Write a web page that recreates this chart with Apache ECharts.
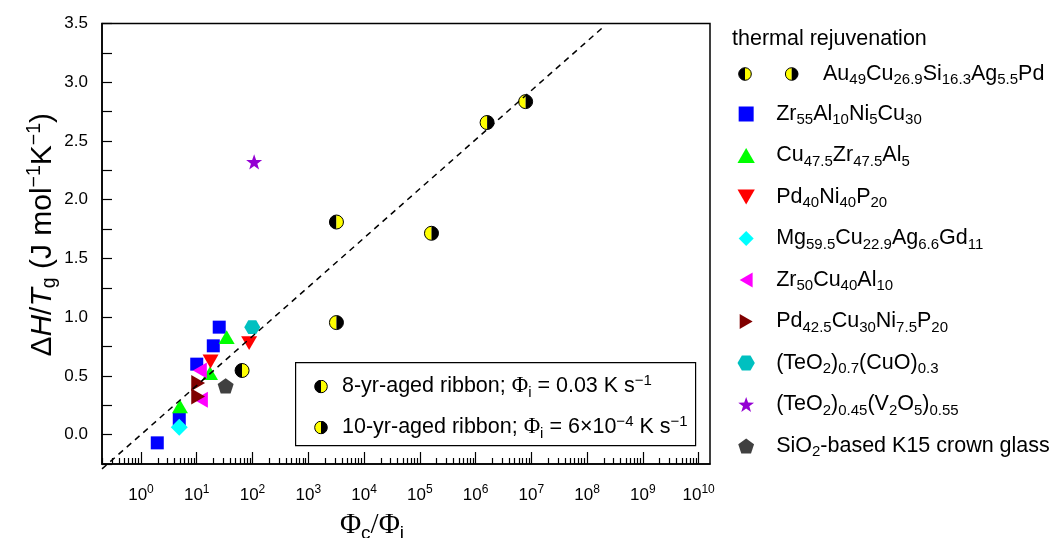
<!DOCTYPE html>
<html>
<head>
<meta charset="utf-8">
<title>thermal rejuvenation</title>
<script src="https://cdn.jsdelivr.net/npm/echarts@6/dist/echarts.min.js"></script>
<style>
  html, body { margin: 0; padding: 0; background: #fff; }
  #chart { width: 1049px; height: 538px; }
</style>
</head>
<body>
<div id="chart"></div>
<script>
// Φc/Φi (x) and ΔH/Tg (y)
const au8X = [65, 3200]
const au8Y = [0.546, 1.81]
const au10X = [3200, 1.62e5, 1.61e6, 7.9e6]
const au10Y = [0.954, 1.714, 2.657, 2.835]
const zrAlNiCuX = [1.96, 4.86, 10, 19.8, 25.3]
const zrAlNiCuY = [-0.07, 0.13, 0.6, 0.756, 0.915]
const cuZrAlX = [5.0, 17.3, 34.4]
const cuZrAlY = [0.24, 0.524, 0.83]
const pdNiPX = [17.7, 87]
const pdNiPY = [0.623, 0.779]
const mgCuAgGdX = [4.86]
const mgCuAgGdY = [0.062]
const zrCuAlX = [11.4, 11.9]
const zrCuAlY = [0.546, 0.297]
const pdCuNiPX = [10.6, 10.6]
const pdCuNiPY = [0.439, 0.325]
const teCuX = [99]
const teCuY = [0.915]
const teVX = [107]
const teVY = [2.322]
const k15X = [33]
const k15Y = [0.416]
// dashed guide line, end points
const guideX = [0.2, 2.1e8]
const guideY = [-0.292, 3.483]

// labelled decades on the x axis
const decadeTicks = [1e0, 1e1, 1e2, 1e3, 1e4, 1e5, 1e6, 1e7, 1e8, 1e9, 1e10]

const xMin = 0.2
const xMax = 1.6e10
const yMin = -0.25
const yMax = 3.5

const FONT = 'Liberation Sans, Arial, sans-serif'
const SERIF = 'Liberation Serif, Times New Roman, serif'

const zip = (xs, ys) => xs.map((x, i) => [x, ys[i]])

// minor ticks (2..9 of every decade)
const minorTicks = []
for (let n = -1; n <= 10; n++) {
  for (let k = 2; k <= 9; k++) {
    const v = k * Math.pow(10, n)
    if (v >= xMin && v <= xMax) minorTicks.push(v)
  }
}

// legend labels, rich text for sub/superscripts
const labels = {
  au: '{n|Au}{s|49}{n|Cu}{s|26.9}{n|Si}{s|16.3}{n|Ag}{s|5.5}{n|Pd}',
  zrAlNiCu: '{n|Zr}{s|55}{n|Al}{s|10}{n|Ni}{s|5}{n|Cu}{s|30}',
  cuZrAl: '{n|Cu}{s|47.5}{n|Zr}{s|47.5}{n|Al}{s|5}',
  pdNiP: '{n|Pd}{s|40}{n|Ni}{s|40}{n|P}{s|20}',
  mg: '{n|Mg}{s|59.5}{n|Cu}{s|22.9}{n|Ag}{s|6.6}{n|Gd}{s|11}',
  zrCuAl: '{n|Zr}{s|50}{n|Cu}{s|40}{n|Al}{s|10}',
  pdCuNiP: '{n|Pd}{s|42.5}{n|Cu}{s|30}{n|Ni}{s|7.5}{n|P}{s|20}',
  teCu: '{n|(TeO}{s|2}{n|)}{s|0.7}{n|(CuO)}{s|0.3}',
  teV: '{n|(TeO}{s|2}{n|)}{s|0.45}{n|(V}{s|2}{n|O}{s|5}{n|)}{s|0.55}',
  k15: '{n|SiO}{s|2}{n|-based K15 crown glass}',
  r8: '{n|8-yr-aged ribbon; }{g|Φ}{s|i}{n| = 0.03 K s}{u|−1}',
  r10: '{n|10-yr-aged ribbon; }{g|Φ}{s|i}{n| = 6×10}{u|−4}{n| K s}{u|−1}'
}

const rich = {
  n: { fontSize: 21.5, fontFamily: FONT, color: '#000' },
  g: { fontSize: 22.5, fontFamily: SERIF, color: '#000' },
  s: { fontSize: 15, fontFamily: FONT, color: '#000', padding: [12, 0, 0, 0] },
  u: { fontSize: 15, fontFamily: FONT, color: '#000', padding: [0, 0, 12, 0] }
}

// half black / half yellow circle icons for the legends
function halfDots(width, dots) {
  let body = ''
  dots.forEach(([cx, lc, rc]) => {
    body += `<path d='M${cx},0.7 A6.3,6.3 0 0 0 ${cx},13.3 Z' fill='${lc}'/>` +
      `<path d='M${cx},0.7 A6.3,6.3 0 0 1 ${cx},13.3 Z' fill='${rc}'/>` +
      `<circle cx='${cx}' cy='7' r='6.3' fill='none' stroke='black' stroke-width='1'/>`
  })
  const svg = `<svg xmlns='http://www.w3.org/2000/svg' width='${width}' height='14'>${body}</svg>`
  return 'image://data:image/svg+xml;charset=utf-8,' + encodeURIComponent(svg)
}

function halfCircle(leftColor, rightColor) {
  return function (params, api) {
    const p = api.coord([api.value(0), api.value(1)])
    const r = 7
    return {
      type: 'group',
      children: [
        { type: 'sector', shape: { cx: p[0], cy: p[1], r: r, startAngle: Math.PI / 2, endAngle: Math.PI * 1.5 }, style: { fill: leftColor } },
        { type: 'sector', shape: { cx: p[0], cy: p[1], r: r, startAngle: -Math.PI / 2, endAngle: Math.PI / 2 }, style: { fill: rightColor } },
        { type: 'circle', shape: { cx: p[0], cy: p[1], r: r }, style: { fill: null, stroke: '#000', lineWidth: 1 } }
      ]
    }
  }
}

const SQUARE = 'path://M-5,-5H5V5H-5Z'
const TRI_UP = 'path://M0,-8.66L10,8.66L-10,8.66Z'
const TRI_DOWN = 'path://M-10,-8.66L10,-8.66L0,8.66Z'
const TRI_LEFT = 'path://M-8.66,0L8.66,-10L8.66,10Z'
const TRI_RIGHT = 'path://M8.66,0L-8.66,-10L-8.66,10Z'
const DIAMOND = 'path://M0,-10L10,0L0,10L-10,0Z'
const HEX = 'path://M-10,0L-5,-8.66L5,-8.66L10,0L5,8.66L-5,8.66Z'
const STAR = 'path://M0,-10L2.35,-3.24L9.51,-3.09L3.8,1.24L5.88,8.09L0,4L-5.88,8.09L-3.8,1.24L-9.51,-3.09L-2.35,-3.24Z'
const PENTA = 'path://M0,-10L9.51,-3.09L5.88,8.09L-5.88,8.09L-9.51,-3.09Z'

function scatter(name, xs, ys, symbol, size, color) {
  return {
    name: name,
    type: 'scatter',
    data: zip(xs, ys),
    symbol: symbol,
    symbolSize: size,
    symbolKeepAspect: true,
    itemStyle: { color: color, opacity: 1 }
  }
}

const chart = echarts.init(document.getElementById('chart'))

const option = {
  backgroundColor: '#fff',
  animation: false,
  textStyle: { fontFamily: FONT },
  title: {
    text: 'thermal rejuvenation',
    left: 732, top: 28, padding: 0,
    textStyle: { fontSize: 21.5, fontWeight: 'normal', color: '#000', fontFamily: FONT }
  },
  grid: {
    left: 102, right: 339, top: 23.5, bottom: 74,
    outerBoundsMode: 'none',
    show: true, borderColor: '#000', borderWidth: 1.5
  },
  legend: [
    {
      // Au row of the right-hand legend
      selectedMode: false,
      left: 738, top: 63, padding: 0,
      itemWidth: 80, itemHeight: 14,
      data: [{ name: '10-yr-aged ribbon', icon: halfDots(80, [[7, '#000', '#ff0'], [53.7, '#ff0', '#000']]) }],
      formatter: () => labels.au,
      textStyle: { rich: rich }
    },
    {
      // the icon sits centred in itemWidth, the box starts at the icon
      selectedMode: false,
      orient: 'vertical',
      left: 737.5, top: 103, padding: 0,
      itemWidth: 50, itemHeight: 15, itemGap: 17,
      data: ['zrAlNiCu', 'cuZrAl', 'pdNiP', 'mg', 'zrCuAl', 'pdCuNiP', 'teCu', 'teV', 'k15'],
      formatter: name => labels[name],
      textStyle: { rich: rich }
    },
    {
      // inset legend
      selectedMode: false,
      orient: 'vertical',
      left: 305, top: 373, padding: 0, z: 10,
      itemWidth: 32, itemHeight: 14, itemGap: 14,
      data: [
        { name: '8-yr-aged ribbon', icon: halfDots(14, [[7, '#000', '#ff0']]) },
        { name: '10-yr-aged ribbon', icon: halfDots(14, [[7, '#ff0', '#000']]) }
      ],
      formatter: name => name.startsWith('8') ? labels.r8 : labels.r10,
      textStyle: { rich: rich }
    }
  ],
  graphic: [
    {
      type: 'rect', left: 295, top: 362, z: 3,
      shape: { width: 400, height: 83 },
      style: { fill: '#fff', stroke: '#000', lineWidth: 1.2 }
    }
  ],
  xAxis: [
    {
      type: 'log',
      min: xMin, max: xMax,
      name: '{p|Φ}{s|c}{p|/Φ}{s|i}',
      nameLocation: 'middle',
      nameGap: 44,
      nameTextStyle: {
        padding: [0, 68, 0, 0],
        rich: {
          p: { fontSize: 29, fontFamily: SERIF, color: '#000' },
          s: { fontSize: 19, fontFamily: FONT, color: '#000', padding: [16, 0, 0, 0] }
        }
      },
      axisLine: { onZero: false, lineStyle: { color: '#000', width: 1.5 } },
      axisTick: { inside: true, length: 12, customValues: decadeTicks, lineStyle: { color: '#000', width: 1.2 } },
      splitLine: { show: false },
      axisLabel: {
        margin: 20,
        customValues: decadeTicks,
        formatter: v => '{b|10}{e|' + Math.round(Math.log10(v)) + '}',
        rich: {
          b: { fontSize: 17, fontFamily: FONT, color: '#000' },
          e: { fontSize: 12, fontFamily: FONT, color: '#000', padding: [0, 0, 10, 0] }
        }
      }
    },
    {
      // carries the short minor ticks only
      type: 'log',
      position: 'bottom',
      min: xMin, max: xMax,
      axisLine: { show: false, onZero: false },
      axisTick: { inside: true, length: 6, customValues: minorTicks, lineStyle: { color: '#000', width: 1.2 } },
      axisLabel: { show: false },
      splitLine: { show: false }
    }
  ],
  yAxis: {
    type: 'value',
    min: yMin, max: yMax, interval: 0.25,
    name: '{n|Δ}{i|H}{n|/}{i|T}{s|g}{n| (J mol}{u|−1}{n|K}{u|−1}{n|)}',
    nameLocation: 'middle',
    nameRotate: 90,
    nameGap: 42,
    nameMoveOverlap: false,
    nameTextStyle: {
      padding: [0, 0, 0, 18],
      rich: {
        n: { fontSize: 30, fontFamily: FONT, color: '#000' },
        i: { fontSize: 30, fontFamily: FONT, fontStyle: 'italic', color: '#000' },
        s: { fontSize: 19.5, fontFamily: FONT, color: '#000', padding: [15, 0, 0, 0] },
        u: { fontSize: 19.5, fontFamily: FONT, color: '#000', padding: [0, 0, 15, 0] }
      }
    },
    axisLine: { show: true, onZero: false, lineStyle: { color: '#000', width: 1.5 } },
    axisTick: { inside: true, length: 10, lineStyle: { color: '#000', width: 1.2 } },
    splitLine: { show: false },
    axisLabel: {
      margin: 14, fontSize: 17, color: '#000', fontFamily: FONT,
      formatter: v => Math.abs(v * 2 - Math.round(v * 2)) < 1e-6 ? v.toFixed(1) : ''
    }
  },
  series: [
    {
      type: 'line',
      silent: true,
      clip: false,
      data: zip(guideX, guideY),
      showSymbol: false,
      lineStyle: { color: '#000', width: 1.5, type: [6, 5] }
    },
    scatter('zrAlNiCu', zrAlNiCuX, zrAlNiCuY, SQUARE, 13, '#0000ff'),
    scatter('cuZrAl', cuZrAlX, cuZrAlY, TRI_UP, 16, '#00ff00'),
    scatter('pdNiP', pdNiPX, pdNiPY, TRI_DOWN, 16, '#ff0000'),
    scatter('mg', mgCuAgGdX, mgCuAgGdY, DIAMOND, 17, '#00ffff'),
    scatter('zrCuAl', zrCuAlX, zrCuAlY, TRI_LEFT, 16, '#ff00ff'),
    scatter('pdCuNiP', pdCuNiPX, pdCuNiPY, TRI_RIGHT, 16, '#800000'),
    scatter('teCu', teCuX, teCuY, HEX, 16, '#00c0c0'),
    scatter('teV', teVX, teVY, STAR, 16, '#9400d3'),
    scatter('k15', k15X, k15Y, PENTA, 16, '#404040'),
    {
      name: '8-yr-aged ribbon',
      type: 'custom',
      data: zip(au8X, au8Y),
      renderItem: halfCircle('#000', '#ff0'),
      z: 3
    },
    {
      name: '10-yr-aged ribbon',
      type: 'custom',
      data: zip(au10X, au10Y),
      renderItem: halfCircle('#ff0', '#000'),
      z: 3
    }
  ]
}

chart.setOption(option)
window.addEventListener('resize', () => chart.resize())
</script>
</body>
</html>
